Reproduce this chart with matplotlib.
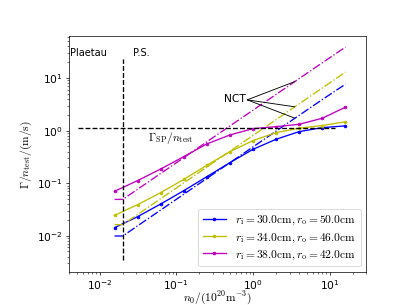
import numpy as np
import matplotlib
matplotlib.use("Agg")
import matplotlib.pyplot as plt

plt.rcParams['mathtext.fontset'] = 'cm'
plt.rcParams['font.size'] = 12

# density n0 / (1e20 m^-3)
n0 = [1/64, 1/32, 1/16, 1/8, 1/4, 1/2, 1, 2, 4, 8, 16]
n0_nct = [1/64, 0.02, 1/32, 1/16, 1/8, 1/4, 1/2, 1, 2, 4, 8, 16]

labels = [r'$r_{\rm i} = 30.0{\rm cm}, r_{\rm o} = 50.0{\rm cm}$',
          r'$r_{\rm i} = 34.0{\rm cm}, r_{\rm o} = 46.0{\rm cm}$',
          r'$r_{\rm i} = 38.0{\rm cm}, r_{\rm o} = 42.0{\rm cm}$']
colors = ['b', 'y', 'm']

# simulated flux / n_test
flux_30 = [0.0142, 0.0230, 0.0401, 0.0719, 0.133, 0.246, 0.441, 0.685, 0.958, 1.14, 1.23]
flux_34 = [0.0244, 0.0389, 0.0659, 0.118, 0.219, 0.398, 0.646, 0.917, 1.11, 1.25, 1.47]
flux_38 = [0.0699, 0.112, 0.186, 0.320, 0.558, 0.828, 1.09, 1.19, 1.32, 1.72, 2.79]

# neoclassical transport estimate
nct_30 = [0.00985, 0.00985, 0.0154, 0.0308, 0.0616, 0.123, 0.246, 0.49, 0.98, 1.96, 3.9, 7.65]
nct_34 = [0.0162, 0.0162, 0.0253, 0.0506, 0.101, 0.203, 0.405, 0.81, 1.62, 3.24, 6.48, 13.0]
nct_38 = [0.0490, 0.0490, 0.0766, 0.153, 0.306, 0.613, 1.23, 2.45, 4.9, 9.8, 19.6, 38.8]

gamma_sp = 1.14
n_ps = 0.02

fig = plt.figure(figsize=(6.4, 4.8), dpi=63.6)
ax = fig.add_subplot(111)
fig.subplots_adjust(left=0.17, right=0.9, bottom=0.108, top=0.882)

fluxes = [flux_30, flux_34, flux_38]
ncts = [nct_30, nct_34, nct_38]
for fl, nc, c, lab in zip(fluxes, ncts, colors, labels):
    ax.loglog(n0, fl, '.-', c=c, label=lab)
    ax.loglog(n0_nct, nc, '-.', c=c)

ax.plot([0.00516, 11.6], [gamma_sp, gamma_sp], '--', c='k')
ax.plot([n_ps, n_ps], [0.0034, 23], '--', c='k')

ax.text(0.0041, 30, 'Plaetau', va='center', ha='left', fontsize=11)
ax.text(0.0275, 30, 'P.S.', va='center', ha='left', fontsize=11)
ax.text(0.042, 0.72, r'$\Gamma_{\rm SP}/n_{\rm test}$', va='center', ha='left',
        fontsize=13)

ax.text(0.80, 4.1, 'NCT', ha='right', va='center')
for nc in ncts:
    ax.annotate('', xy=(3.5, nc[0] * 3.5 / n_ps), xytext=(0.84, 3.85),
                arrowprops=dict(arrowstyle='-', color='k', lw=1,
                                shrinkA=0, shrinkB=0))

ax.set_xlim(4e-3, 30)
ax.set_ylim(2.03e-3, 64)
ax.set_xlabel(r'$n_0/(10^{20}{\rm m}^{-3})$', labelpad=-3, fontsize=13)
ax.set_ylabel(r'$\Gamma/n_{\rm test}/({\rm m/s})$', fontsize=13)
ax.legend(loc='lower right', fontsize=13, labelspacing=0.35)

fig.savefig('out.png', dpi=63.6)
